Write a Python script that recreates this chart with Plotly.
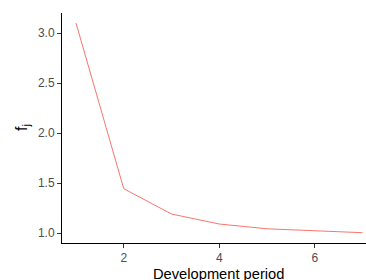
import plotly.graph_objects as go

periods = [1, 2, 3, 4, 5, 6, 7]
factors = [3.10, 1.443, 1.19, 1.09, 1.042, 1.022, 1.003]
x_ticks = [2, 4, 6]
y_ticks = [1.0, 1.5, 2.0, 2.5, 3.0]

W, H = 366, 280
ml, mr, mt, mb = 62, 0, 13, 37
FONT = "Liberation Sans, Arial, sans-serif"

fig = go.Figure()
fig.add_trace(go.Scatter(x=periods, y=factors, mode="lines",
                         line=dict(color="#F8766D", width=1), showlegend=False,
                         hoverinfo="skip"))

fig.update_layout(
    width=W, height=H,
    margin=dict(l=ml, r=mr, t=mt, b=mb, pad=0),
    plot_bgcolor="white", paper_bgcolor="white",
    font=dict(family=FONT, color="#4D4D4D", size=12),
    xaxis=dict(range=[0.707, 1 + (366 - 76) / 47.75], tickvals=x_ticks,
               ticktext=[str(v) for v in x_ticks],
               showgrid=False, zeroline=False, showline=True, linecolor="black",
               linewidth=1, ticks="outside", ticklen=4, tickcolor="#333333",
               tickfont=dict(size=12, color="#4D4D4D")),
    yaxis=dict(range=[0.9, 3.2], tickvals=y_ticks,
               ticktext=[f"{v:.1f}" for v in y_ticks],
               showgrid=False, zeroline=False, showline=True, linecolor="black",
               linewidth=1, ticks="outside", ticklen=4, tickcolor="#333333",
               tickfont=dict(size=12, color="#4D4D4D")),
    annotations=[
        dict(text="Development period", xref="paper", yref="paper",
             x=(218 - ml) / (W - ml - mr), y=-(274 - (H - mb)) / (H - mt - mb),
             xanchor="center", yanchor="middle", showarrow=False,
             font=dict(size=14.7, color="black", family=FONT)),
        dict(text="f<sub>j</sub>", xref="paper", yref="paper",
             x=(22 - ml) / (W - ml - mr), y=0.5, textangle=-90,
             xanchor="center", yanchor="middle", showarrow=False,
             font=dict(size=16, color="black", family=FONT)),
    ],
)

fig.write_html("out.html", config={"displayModeBar": False},
               post_script="document.body.style.margin='0';document.body.style.overflow='hidden';")
